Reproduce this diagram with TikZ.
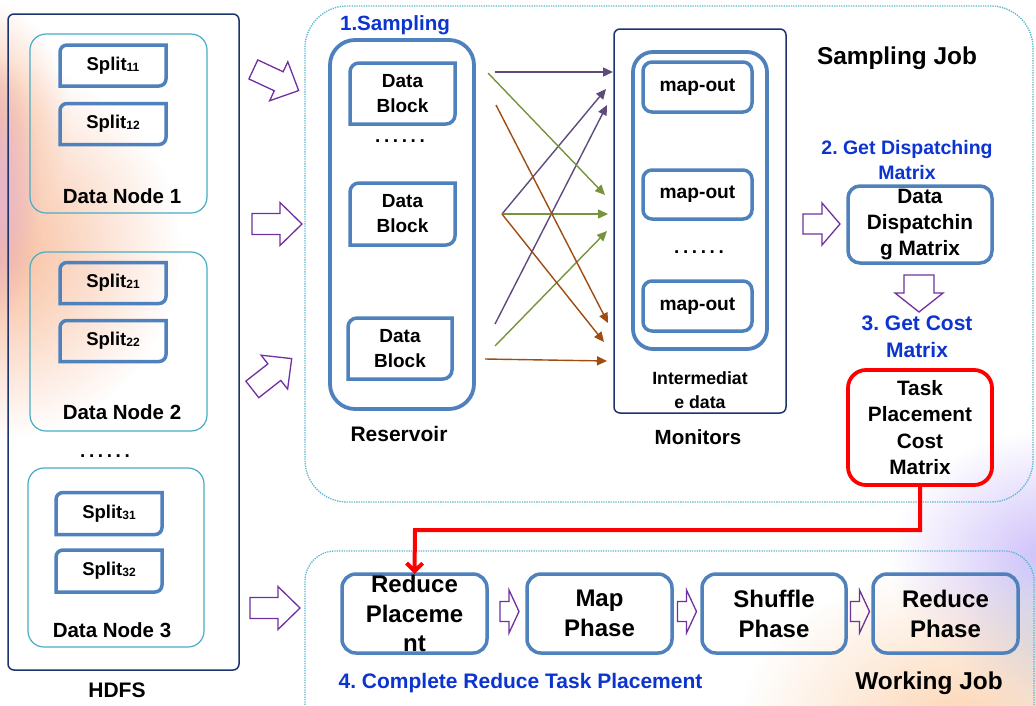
\documentclass[tikz,border=0pt]{standalone}
\usepackage{fontspec}
\setmainfont{Liberation Sans}
\usetikzlibrary{arrows.meta,fadings}

\definecolor{boxblue}{RGB}{79,129,189}
\definecolor{navyline}{RGB}{28,52,110}
\definecolor{aqualine}{RGB}{75,172,198}
\definecolor{dotblue}{RGB}{90,180,210}
\definecolor{labelblue}{RGB}{12,52,208}
\definecolor{hollowpurple}{RGB}{112,48,160}
\definecolor{flowpurple}{RGB}{96,74,123}
\definecolor{flowgreen}{RGB}{119,147,60}
\definecolor{flowbrown}{RGB}{160,75,15}
\definecolor{costred}{RGB}{255,0,0}
\definecolor{glowpeach}{RGB}{248,185,150}
\definecolor{glowpink}{RGB}{225,175,210}
\definecolor{glowlilac}{RGB}{205,190,250}
\definecolor{glowcream}{RGB}{252,215,182}
\definecolor{glowsky}{RGB}{200,214,244}

\tikzfading[name=glowfade, inner color=transparent!0, outer color=transparent!100]

% bold text of a given size and line spacing (in pt)
\newcommand\fsz[2]{\fontsize{#1pt}{#2pt}\selectfont\bfseries\frenchspacing}
\newcommand\dotrow{.\hspace{3.6pt}.\hspace{3.6pt}.\hspace{3.6pt}.\hspace{3.6pt}.\hspace{3.6pt}.}
\newcommand\splitlabel[1]{Split{\fontsize{12pt}{12pt}\selectfont\raisebox{-1pt}{#1}}}
% frame with rounded top-left and bottom-right corners, square elsewhere
\newcommand\dcframe[2]{%
  \draw[blockline] (#1.south west) -- ([yshift=-#2]#1.north west)
    arc[start angle=180,end angle=90,radius=#2] -- (#1.north east)
    -- ([yshift=#2]#1.south east)
    arc[start angle=0,end angle=-90,radius=#2] -- cycle;}
% outlined block arrow: name, centre, angle, length, head length, shaft width, head width
\newcommand\hollowarrow[7]{%
  \begin{scope}[shift={#2}, rotate=#3]
    \coordinate (#1) at (0,0);
    \draw[hollowline] ({-#4/2},{-#6/2}) -- ({#4/2-#5},{-#6/2}) -- ({#4/2-#5},{-#7/2})
      -- ({#4/2},0) -- ({#4/2-#5},{#7/2}) -- ({#4/2-#5},{#6/2}) -- ({-#4/2},{#6/2}) -- cycle;
  \end{scope}}

\tikzset{
  lbl/.style={inner sep=0pt, outer sep=0pt, align=center},
  slot/.style={rectangle, inner sep=0pt, outer sep=0pt, align=center},
  blockline/.style={draw=boxblue, line width=3.5pt, line join=miter},
  bluebox/.style={slot, draw=boxblue, line width=3.5pt},
  nodebox/.style={slot, draw=aqualine, line width=1.2pt, rounded corners=16pt},
  navybox/.style={slot, draw=navyline, line width=1.5pt, rounded corners=6pt},
  jobframe/.style={draw=dotblue, line width=1.3pt, dash pattern=on 1.3pt off 1.1pt},
  hollowline/.style={draw=hollowpurple, line width=1.3pt, line join=miter},
  flow/.style={line width=1.4pt, -{Triangle[length=10pt,width=9pt]}},
  redline/.style={draw=costred, line width=4pt, -{Straight Barb[length=8pt,width=16pt]}},
  glow/.style={path fading=glowfade},
}

\begin{document}
\begin{tikzpicture}[x=1pt,y=-1pt]
\fill[white] (0,0) rectangle (1036,705);
\useasboundingbox (0,0) rectangle (1036,705);

% soft background glows
\begin{scope}
  \clip (0,0) rectangle (1036,705);
  \fill[glowpeach, glow] (-10,250) ellipse [x radius=190pt, y radius=190pt];
  \fill[glowpeach, glow] (-20,120) ellipse [x radius=90pt, y radius=120pt];
  \fill[glowpink, glow] (-15,190) ellipse [x radius=55pt, y radius=140pt];
  \fill[glowlilac, glow] (1050,560) ellipse [x radius=160pt, y radius=130pt];
  \fill[glowsky, glow] (1050,640) ellipse [x radius=90pt, y radius=100pt];
  \fill[glowcream, glow] (960,720) ellipse [x radius=220pt, y radius=150pt];
\end{scope}

% ---------- HDFS ----------
\node[navybox, minimum width=231pt, minimum height=656pt] (hdfs) at (123.5,342) {};
\node[nodebox, minimum width=177pt, minimum height=179pt] (dn1) at (118.5,123.5) {};
\node[nodebox, minimum width=177pt, minimum height=179pt] (dn2) at (118.5,341.5) {};
\node[nodebox, minimum width=176pt, minimum height=179pt] (dn3) at (116,557.5) {};

\node[slot, minimum width=106pt, minimum height=41pt, font=\fsz{18.5}{22}] (s11) at (113,65.5) {\splitlabel{11}};
\node[slot, minimum width=106pt, minimum height=41pt, font=\fsz{18.5}{22}] (s12) at (113,124) {\splitlabel{12}};
\node[slot, minimum width=106pt, minimum height=41pt, font=\fsz{18.5}{22}] (s21) at (113,283) {\splitlabel{21}};
\node[slot, minimum width=106pt, minimum height=41pt, font=\fsz{18.5}{22}] (s22) at (113,341) {\splitlabel{22}};
\node[slot, minimum width=106pt, minimum height=42pt, font=\fsz{18.5}{22}] (s31) at (109,513.5) {\splitlabel{31}};
\node[slot, minimum width=106pt, minimum height=42pt, font=\fsz{18.5}{22}] (s32) at (109,571) {\splitlabel{32}};
\dcframe{s11}{7pt}\dcframe{s12}{7pt}\dcframe{s21}{7pt}
\dcframe{s22}{7pt}\dcframe{s31}{7pt}\dcframe{s32}{7pt}

\node[lbl, font=\fsz{20.5}{24}] (dn1lbl) at (122,196) {Data Node 1};
\node[lbl, font=\fsz{20.5}{24}] (dn2lbl) at (122,412) {Data Node 2};
\node[lbl, font=\fsz{20.5}{24}] (dn3lbl) at (112,630) {Data Node 3};
\node[lbl, font=\fsz{19}{22}] (hdfsdots) at (105,456) {\dotrow};
\node[lbl, font=\fsz{21}{24}] (hdfslbl) at (117,690) {HDFS};

% block arrows from the data nodes into the jobs
\hollowarrow{h1}{(276,80)}{-25}{50}{22}{21}{43}
\hollowarrow{h2}{(277,224)}{0}{50}{22}{21}{43}
\hollowarrow{h3}{(272,374)}{38}{50}{22}{21}{43}
\hollowarrow{h4}{(275,608)}{0}{50}{22}{21}{43}

% ---------- Sampling job ----------
\draw[jobframe, rounded corners=42pt] (305,6) rectangle (1033,502);
\node[lbl, font=\fsz{20.6}{24}, text=labelblue] (samplbl) at (395,25) {1.Sampling};

\node[slot, draw=boxblue, line width=3.8pt, rounded corners=25pt, minimum width=144pt, minimum height=369pt] (resv) at (402,224.5) {};
\node[slot, minimum width=105pt, minimum height=61pt, font=\fsz{19}{25}] (db1) at (402.5,93.5) {Data\\Block};
\node[slot, minimum width=105pt, minimum height=62pt, font=\fsz{19}{25}] (db2) at (402.5,214) {Data\\Block};
\node[slot, minimum width=104pt, minimum height=61pt, font=\fsz{19}{25}] (db3) at (400,348.5) {Data\\Block};
\dcframe{db1}{9pt}\dcframe{db2}{9pt}\dcframe{db3}{9pt}
\node[lbl, font=\fsz{19}{22}] (dbdots) at (400,141) {\dotrow};
\node[lbl, font=\fsz{21}{24}] (resvlbl) at (399,434) {Reservoir};

\node[navybox, minimum width=172pt, minimum height=384pt] (mon) at (700,221) {};
\node[slot, draw=boxblue, line width=3.8pt, rounded corners=20pt, minimum width=134pt, minimum height=297pt] (mid) at (700,200.5) {};
\node[bluebox, rounded corners=9pt, minimum width=109pt, minimum height=50pt, font=\fsz{19.2}{22}] (mo1) at (697.5,87) {map-out};
\node[bluebox, rounded corners=9pt, minimum width=109pt, minimum height=49pt, font=\fsz{19.2}{22}] (mo2) at (697.5,194.5) {map-out};
\node[bluebox, rounded corners=9pt, minimum width=109pt, minimum height=50pt, font=\fsz{19.2}{22}] (mo3) at (697.5,306) {map-out};
\node[lbl, font=\fsz{19}{22}] (modots) at (699,252) {\dotrow};
\node[lbl, font=\fsz{17.7}{24}] (interlbl) at (700,390) {Intermediat\\e data};
\node[lbl, font=\fsz{20.5}{24}] (monlbl) at (698,437) {Monitors};

% sampled blocks spread over the monitors
\coordinate (pa) at (495,72);   \coordinate (pb) at (502,214);  \coordinate (pc) at (495,324);
\coordinate (ga) at (488,73);   \coordinate (gc) at (495,346);
\coordinate (ba) at (496,105);  \coordinate (bc) at (485,359);
\coordinate (tp1) at (613,72);  \coordinate (tp2) at (606,89);  \coordinate (tp3) at (607,105);
\coordinate (tg1) at (605,195); \coordinate (tg2) at (608,214); \coordinate (tg3) at (607,231);
\coordinate (tb1) at (608,323); \coordinate (tb2) at (604,342); \coordinate (tb3) at (607,361);
\draw[flow, flowpurple] (pa) -- (tp1);
\draw[flow, flowpurple] (pb) -- (tp2);
\draw[flow, flowpurple] (pc) -- (tp3);
\draw[flow, flowgreen] (ga) -- (tg1);
\draw[flow, flowgreen] (pb) -- (tg2);
\draw[flow, flowgreen] (gc) -- (tg3);
\draw[flow, flowbrown] (ba) -- (tb1);
\draw[flow, flowbrown] (pb) -- (tb2);
\draw[flow, flowbrown] (bc) -- (tb3);

\node[lbl, font=\fsz{24.4}{28}] (sjlbl) at (897,58) {Sampling Job};
\node[lbl, font=\fsz{19.5}{25}, text=labelblue] (step2) at (907,160) {2. Get Dispatching\\Matrix};
\hollowarrow{hdd}{(821.5,224)}{0}{37}{18}{20}{42}
\node[bluebox, rounded corners=12pt, minimum width=144pt, minimum height=77pt, font=\fsz{20.8}{26}] (ddm) at (920,224.5) {Data\\Dispatchin\\g Matrix};
\hollowarrow{hdown}{(919,293.5)}{-90}{37}{19}{30}{48}
\node[lbl, font=\fsz{21}{27}, text=labelblue] (step3) at (917,336.5) {3. Get Cost\\Matrix};
\node[slot, draw=costred, line width=3.8pt, rounded corners=18pt, minimum width=144pt, minimum height=115pt, font=\fsz{20.8}{26.3}] (tpcm) at (920,427.5) {Task\\Placement\\Cost\\Matrix};

% ---------- Working job ----------
\draw[jobframe, rounded corners=30pt] (305,705) -- (305,551) -- (1034,551) -- (1034,705);
\node[bluebox, rounded corners=14pt, minimum width=145pt, minimum height=79pt, font=\fsz{24}{29.5}] (rp) at (414.5,613.5) {Reduce\\Placeme\\nt};
\node[bluebox, rounded corners=14pt, minimum width=145pt, minimum height=79pt, font=\fsz{24}{30}] (mp) at (599.5,613.5) {Map\\Phase};
\node[bluebox, rounded corners=14pt, minimum width=144pt, minimum height=79pt, font=\fsz{24}{30}] (sp) at (774,613.5) {Shuffle\\Phase};
\node[bluebox, rounded corners=14pt, minimum width=145pt, minimum height=79pt, font=\fsz{24}{30}] (rph) at (945.5,613.5) {Reduce\\Phase};
\hollowarrow{hs1}{(509.5,611.5)}{0}{19}{10}{20}{43}
\hollowarrow{hs2}{(687,611.5)}{0}{19}{10}{20}{43}
\hollowarrow{hs3}{(860,611.5)}{0}{19}{10}{20}{43}
\node[lbl, font=\fsz{21}{24}, text=labelblue] (step4) at (520.5,683) {4. Complete Reduce Task Placement};
\node[lbl, font=\fsz{24.4}{28}] (wjlbl) at (929,683) {Working Job};

% cost matrix drives the reduce placement
\coordinate (redbend) at (415,530);
\draw[redline] (tpcm.south) |- (redbend) -- (rp.north);
\end{tikzpicture}
\end{document}
